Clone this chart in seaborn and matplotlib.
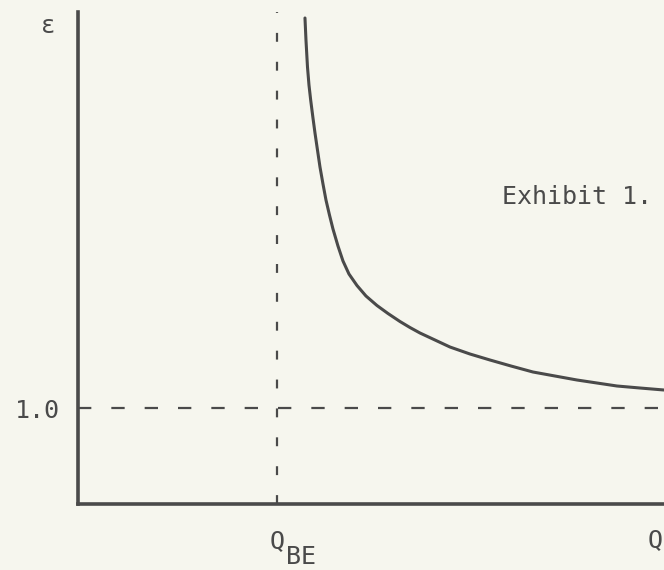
import matplotlib
matplotlib.use("Agg")
import matplotlib.pyplot as plt
import seaborn as sns
import pandas as pd

# points (Q in units of Q_BE, epsilon)
q_vals = [1.1407, 1.1457, 1.1533, 1.1608, 1.1693, 1.1809, 1.1910, 1.2035,
          1.2161, 1.2312, 1.2462, 1.2638, 1.2814, 1.3065, 1.3317, 1.3618,
          1.4020, 1.4472, 1.5025, 1.5578, 1.6181, 1.6683, 1.7186, 1.7940,
          1.8693, 1.9698, 2.0704, 2.1759, 2.2864, 2.3970, 2.5075, 2.6080,
          2.7085, 2.8241, 2.9447]
eps_vals = [5.0625, 4.8333, 4.5521, 4.3646, 4.2083, 4.0208, 3.8646, 3.6875,
            3.5104, 3.3333, 3.1667, 3.0104, 2.8646, 2.6875, 2.5313, 2.3958,
            2.2760, 2.1667, 2.0677, 1.9844, 1.9010, 1.8385, 1.7813, 1.7083,
            1.6354, 1.5625, 1.5000, 1.4375, 1.3750, 1.3333, 1.2917, 1.2604,
            1.2292, 1.2083, 1.1875]
q_be = 1.0
eps_ref = 1.0
y_tick_labels = ["1.0"]

ink = "#4a4a4a"
paper = "#f6f6ee"

sns.set_style("white")
plt.rcParams["font.family"] = ["DejaVu Sans Mono", "DejaVu Sans"]

fig = plt.figure(figsize=(6.64, 5.70), dpi=100, facecolor=paper)
ax = fig.add_axes([78 / 664, 1 - 504 / 570, 1 - 78 / 664, (504 - 12) / 570])
ax.set_facecolor(paper)

df = pd.DataFrame({"Q": q_vals, "eps": eps_vals})
sns.lineplot(data=df, x="Q", y="eps", color=ink, linewidth=2.2, sort=False, ax=ax)

ax.axhline(eps_ref, color=ink, linewidth=1.6, dashes=(6, 9))
ax.axvline(q_be, color=ink, linewidth=1.6, dashes=(4, 9))

ax.set_xlim(0, 2.945)
ax.set_ylim(0, 5.125)
sns.despine(ax=ax, top=True, right=True)
for side in ["left", "bottom"]:
    ax.spines[side].set_color(ink)
    ax.spines[side].set_linewidth(2.6)

ax.set_xticks([])
ax.set_yticks([eps_ref])
ax.set_yticklabels(y_tick_labels, fontsize=18, color=ink)
ax.tick_params(axis="y", length=0, pad=13)
ax.set_xlabel("")
ax.set_ylabel("")

# axis labels as in the scan
ax.text(-0.051, 0.972, "\u03b5", transform=ax.transAxes, fontsize=17,
        color=ink, ha="center", va="center")
ax.text(q_be, -0.075, "Q", transform=ax.get_xaxis_transform(), fontsize=18,
        color=ink, ha="center", va="center")
ax.text(q_be + 0.12, -0.108, "BE", transform=ax.get_xaxis_transform(),
        fontsize=18, color=ink, ha="center", va="center")
ax.text(2.9, -0.073, "Q", transform=ax.get_xaxis_transform(), fontsize=18,
        color=ink, ha="center", va="center", clip_on=False)
ax.text(2.13, 3.2, "Exhibit 1.", fontsize=18, color=ink, ha="left",
        va="center", clip_on=False)

fig.savefig("out.png", dpi=100, facecolor=paper)
